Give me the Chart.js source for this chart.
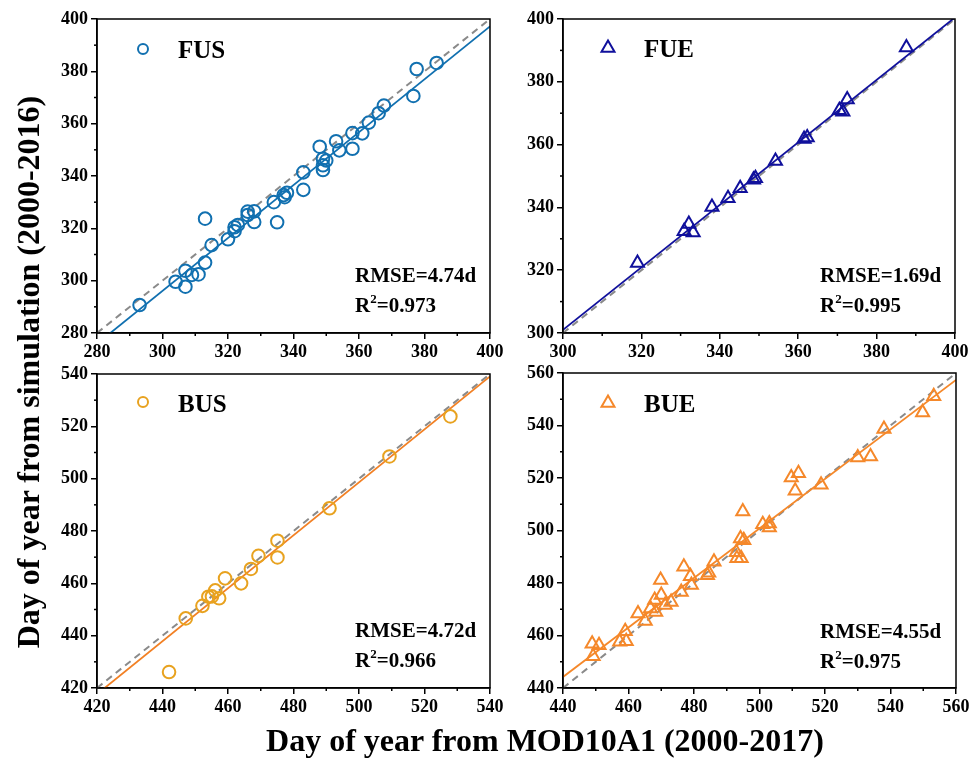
<!DOCTYPE html>
<html>
<head>
<meta charset="utf-8">
<script src="https://cdn.jsdelivr.net/npm/chart.js@4.4.0/dist/chart.umd.min.js"></script>
<style>
  body { margin: 0; background: #fff; }
  #page { position: relative; width: 972px; height: 758px; overflow: hidden; background: #fff;
          font-family: "Liberation Serif", "Times New Roman", serif; font-weight: bold; color: #000; }
  canvas { position: absolute; }
  .txt { position: absolute; white-space: nowrap; }
  .leg { font-size: 25px; line-height: 25px; }
  .stat { font-size: 21px; line-height: 21px; }
  .sup { font-size: 13px; position: relative; top: -9px; }
  .title { font-size: 32px; line-height: 32px; width: 600px; text-align: center; }
</style>
</head>
<body>
<div id="page">
  <canvas id="cFUS" width="520" height="370" style="left:0;top:0"></canvas>
  <canvas id="cFUE" width="520" height="370" style="left:470px;top:0"></canvas>
  <canvas id="cBUS" width="520" height="370" style="left:0;top:355px"></canvas>
  <canvas id="cBUE" width="520" height="370" style="left:470px;top:355px"></canvas>

  <div class="txt leg" style="left:178px;top:37px">FUS</div>
  <div class="txt leg" style="left:644px;top:36px">FUE</div>
  <div class="txt leg" style="left:178px;top:391px">BUS</div>
  <div class="txt leg" style="left:644px;top:391px">BUE</div>

  <div class="txt stat" style="left:355px;top:265px">RMSE=4.74d</div>
  <div class="txt stat" style="left:355px;top:295px">R<span class="sup">2</span>=0.973</div>
  <div class="txt stat" style="left:820px;top:265px">RMSE=1.69d</div>
  <div class="txt stat" style="left:820px;top:295px">R<span class="sup">2</span>=0.995</div>
  <div class="txt stat" style="left:355px;top:620px">RMSE=4.72d</div>
  <div class="txt stat" style="left:355px;top:650px">R<span class="sup">2</span>=0.966</div>
  <div class="txt stat" style="left:820px;top:621px">RMSE=4.55d</div>
  <div class="txt stat" style="left:820px;top:651px">R<span class="sup">2</span>=0.975</div>

  <div class="txt title" style="left:-272px;top:356px;transform:rotate(-90deg)">Day of year from simulation (2000-2016)</div>
  <div class="txt title" style="left:245px;top:724px">Day of year from MOD10A1 (2000-2017)</div>
</div>

<script>
const fusX = [293, 304, 307, 307, 309, 311, 313, 313, 315, 320, 322, 322, 323, 326, 326, 328, 328, 334, 335, 337,
              337.3, 338, 343, 343, 348, 349, 349, 349, 350, 353, 354, 358, 358, 361, 363, 366, 367.6, 376.6, 377.6, 383.7];
const fusY = [290.7, 299.6, 303.8, 297.7, 302.2, 302.4, 306.9, 323.7, 313.6, 315.8, 318.9, 320.4, 321.3, 326.4, 325.1, 326.5, 322.4, 330, 322.3, 332.7,
              331.9, 333.6, 341.4, 334.7, 351.2, 346.6, 344.1, 342.3, 345.9, 353.3, 349.8, 356.4, 350.4, 356.3, 360.4, 364, 366.9, 370.6, 380.9, 383.2];

const fueX = [319, 330.9, 332.1, 333.2, 338, 342.1, 345.2, 348.6, 349.1, 354.2, 361.5, 362.3, 370.5, 371.4, 372.5, 387.6];
const fueY = [322.3, 332.4, 334.7, 332, 340.1, 342.9, 346.1, 348.8, 349.3, 354.8, 361.8, 362.3, 370.9, 370.5, 374.4, 390.9];

const busX = [442, 447.1, 452.2, 454, 456.1, 455.1, 457.3, 459.1, 464, 467, 469.3, 475.1, 475.1, 491, 509.3, 527.9];
const busY = [426.1, 446.6, 451.4, 454.9, 457.3, 455, 454.3, 461.9, 460, 465.5, 470.5, 476.3, 469.9, 488.7, 508.5, 523.8];

const bueX = [448.9, 451, 449.2, 457.3, 459, 459.3, 462.9, 465.1, 466.7, 468, 468.3, 469.8, 470, 471.2, 473, 476.1, 476.9, 478.9, 479.2, 484.1,
              484.5, 486.1, 492.9, 493.1, 494.4, 494.2, 495.2, 494.9, 501, 503, 503, 509.7, 511.9, 510.9, 518.8, 530, 533.9, 538, 549.8, 553.2];
const bueY = [456.9, 456.3, 452.1, 457.6, 461.6, 457.8, 468.4, 465.5, 470.3, 473.5, 469, 481.1, 475.4, 471.6, 472.8, 476.6, 486.2, 482.6, 479.2, 483,
              483.9, 488.1, 491.7, 489.4, 489.4, 497, 496.3, 507.2, 502.4, 502.7, 501.1, 520.2, 521.8, 515.1, 517.4, 527.8, 528.2, 538.7, 545, 551.1];

// retas de ajuste [inclinação, intercepto]
const fusFit = [1.011, -7.2];
const fueFit = [0.995, 2.5];
const busFit = [1.012, -7.4];
const bueFit = [0.943, 29.3];

// limites dos eixos [min, max]
const fusRange = [280, 400];
const fueRange = [300, 400];
const busRange = [420, 540];
const bueRange = [440, 560];

const FONT = "'Liberation Serif', 'Times New Roman', serif";

// moldura, ticks menores e marcador da legenda
const framePlugin = {
  id: 'frame',
  afterDraw(chart, args, opts) {
    const { ctx, chartArea: a, scales: { x, y } } = chart;
    ctx.save();
    ctx.strokeStyle = '#000';
    ctx.lineWidth = 1.5;
    ctx.strokeRect(a.left, a.top, a.right - a.left, a.bottom - a.top);
    for (let v = x.min + 10; v < x.max; v += 20) {
      const px = x.getPixelForValue(v);
      ctx.beginPath(); ctx.moveTo(px, a.bottom); ctx.lineTo(px, a.bottom + 3); ctx.stroke();
    }
    for (let v = y.min + 10; v < y.max; v += 20) {
      const py = y.getPixelForValue(v);
      ctx.beginPath(); ctx.moveTo(a.left, py); ctx.lineTo(a.left - 3, py); ctx.stroke();
    }
    // marcador da legenda
    ctx.strokeStyle = opts.color;
    ctx.lineWidth = 2;
    ctx.beginPath();
    if (opts.style === 'circle') {
      ctx.arc(opts.x, opts.y, 5, 0, Math.PI * 2);
    } else {
      const r = 7.5;
      ctx.moveTo(opts.x, opts.y - r);
      ctx.lineTo(opts.x + r * Math.cos(Math.PI / 6), opts.y + r / 2);
      ctx.lineTo(opts.x - r * Math.cos(Math.PI / 6), opts.y + r / 2);
      ctx.closePath();
    }
    ctx.stroke();
    ctx.restore();
  }
};

function makePanel(id, xs, ys, fit, range, p) {
  const el = document.getElementById(id);
  if (!el) {
    console.warn('canvas não encontrado:', id);
    return;
  }
  const pts = xs.map((v, i) => ({ x: v, y: ys[i] }));
  const fitPts = range.map(v => ({ x: v, y: fit[0] * v + fit[1] }));
  const onePts = range.map(v => ({ x: v, y: v }));
  const axis = (isX) => ({
    type: 'linear',
    min: range[0],
    max: range[1],
    ticks: { stepSize: 20, color: '#000', padding: 3, font: { family: FONT, size: 18, weight: 'bold' } },
    grid: { display: true, drawOnChartArea: false, drawTicks: true, tickLength: 6, color: '#000', lineWidth: 1.5 },
    border: { display: true, color: '#000', width: 1.5 },
    afterFit(scale) {
      if (isX) scale.height = p.xH; else scale.width = p.yW;
    }
  });
  new Chart(el, {
    type: 'scatter',
    data: {
      datasets: [
        {
          data: pts,
          pointStyle: p.style,
          pointRadius: p.r,
          pointHoverRadius: p.r,
          borderColor: p.color,
          backgroundColor: 'rgba(0,0,0,0)',
          pointBorderWidth: 2
        },
        {
          data: fitPts,
          showLine: true,
          borderColor: p.lineColor,
          borderWidth: 1.8,
          pointRadius: 0
        },
        {
          data: onePts,
          showLine: true,
          borderColor: '#8a8a8a',
          borderWidth: 2,
          borderDash: [7, 5],
          pointRadius: 0
        }
      ]
    },
    options: {
      responsive: false,
      animation: false,
      events: [],
      layout: { padding: { top: p.top, right: p.right, left: 0, bottom: 0 } },
      plugins: {
        legend: { display: false },
        tooltip: { enabled: false },
        frame: { x: p.legX, y: p.legY, style: p.style, color: p.color }
      },
      scales: { x: axis(true), y: axis(false) }
    },
    plugins: [framePlugin]
  });
}

makePanel('cFUS', fusX, fusY, fusFit, fusRange,
  { style: 'circle', r: 6.3, color: '#1170b0', lineColor: '#1170b0', top: 19, right: 30, yW: 97, xH: 37, legX: 143, legY: 49 });
makePanel('cFUE', fueX, fueY, fueFit, fueRange,
  { style: 'triangle', r: 7.5, color: '#10109c', lineColor: '#10109c', top: 19, right: 35, yW: 93, xH: 37, legX: 138, legY: 48 });
makePanel('cBUS', busX, busY, busFit, busRange,
  { style: 'circle', r: 6.3, color: '#e8a21f', lineColor: '#f28024', top: 19, right: 30, yW: 97, xH: 37, legX: 143, legY: 47 });
makePanel('cBUE', bueX, bueY, bueFit, bueRange,
  { style: 'triangle', r: 7.5, color: '#f5882a', lineColor: '#f5882a', top: 18, right: 34, yW: 93, xH: 37, legX: 138, legY: 48 });
</script>
</body>
</html>
